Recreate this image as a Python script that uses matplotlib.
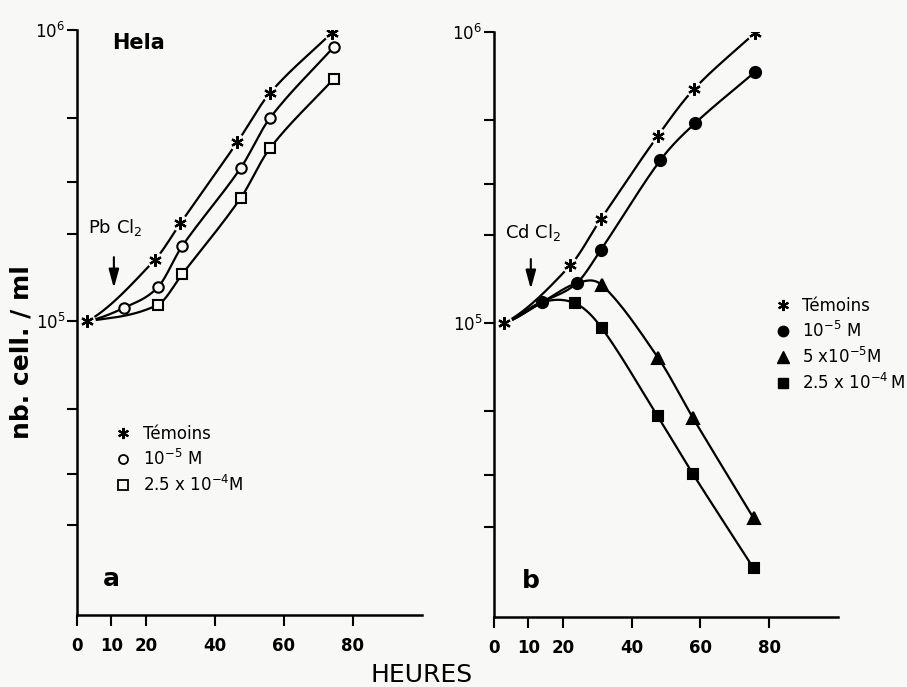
import numpy as np
import matplotlib
matplotlib.use("Agg")
import matplotlib.pyplot as plt
from matplotlib.lines import Line2D

# common starting culture (before the salt is added)
t_start = 3
n_start = 1.0e5

# panel a : PbCl2
a_tem_t = [22.5, 30, 46.5, 56, 74]
a_tem_n = [1.62e5, 2.17e5, 4.12e5, 6.08e5, 9.8e5]
a_m5_t = [13.5, 23.5, 30.5, 47.5, 56, 74.5]
a_m5_n = [1.11e5, 1.31e5, 1.81e5, 3.36e5, 4.99e5, 8.75e5]
a_m4_t = [23.5, 30.5, 47.5, 56, 74.5]
a_m4_n = [1.14e5, 1.45e5, 2.65e5, 3.93e5, 6.8e5]

# panel b : CdCl2
b_tem_t = [22.2, 31, 47.6, 58.2, 76]
b_tem_n = [1.58e5, 2.27e5, 4.39e5, 6.37e5, 9.95e5]
b_m5_t = [14, 24, 31, 48.4, 58.5, 76]
b_m5_n = [1.18e5, 1.37e5, 1.78e5, 3.63e5, 4.86e5, 7.3e5]
b_5m5_t = [31.4, 47.8, 57.9, 75.5]
b_5m5_n = [1.35e5, 7.58e4, 4.72e4, 2.14e4]
b_m4_t = [23.6, 31.4, 47.6, 57.9, 75.5]
b_m4_n = [1.17e5, 9.6e4, 4.79e4, 3.03e4, 1.44e4]

a_labels = ['Témoins', '10$^{-5}$ M', '2.5 x 10$^{-4}$M']
b_labels = ['Témoins', '10$^{-5}$ M', '5 x10$^{-5}$M', '2.5 x 10$^{-4}\\,$M']

BG = '#f8f8f6'
STAR = (6, 2, 0)


def smooth(t, n, steps=30):
    # catmull-rom style curve through the points, in log space (hand-drawn look)
    x = np.asarray(t, float)
    y = np.log10(np.asarray(n, float))
    m = np.empty_like(y)
    m[1:-1] = (y[2:] - y[:-2]) / (x[2:] - x[:-2])
    m[0] = 0.6 * (y[1] - y[0]) / (x[1] - x[0])
    m[-1] = (y[-1] - y[-2]) / (x[-1] - x[-2])
    xs, ys = [], []
    for i in range(len(x) - 1):
        h = x[i + 1] - x[i]
        s = np.linspace(0, 1, steps)
        h00 = 2 * s**3 - 3 * s**2 + 1
        h10 = s**3 - 2 * s**2 + s
        h01 = -2 * s**3 + 3 * s**2
        h11 = s**3 - s**2
        xs.append(x[i] + s * h)
        ys.append(h00 * y[i] + h10 * h * m[i] + h01 * y[i + 1] + h11 * h * m[i + 1])
    return np.concatenate(xs), 10 ** np.concatenate(ys)


def curve(ax, t, n):
    xs, ys = smooth(t, n)
    ax.plot(xs, ys, color='k', lw=1.6, zorder=2, solid_capstyle='butt')


def marks(ax, t, n, marker, filled, ms):
    if marker == STAR:
        ax.plot(t, n, 'o', ms=ms + 3, mfc=BG, mec='none', zorder=3)
        ax.plot(t, n, ls='none', marker=STAR, ms=ms, mec='k', mew=1.6, zorder=4)
    else:
        ax.plot(t, n, ls='none', marker=marker, ms=ms, mfc='k' if filled else BG,
                mec='k', mew=1.5, zorder=4)


def setup(ax):
    ax.set_facecolor(BG)
    ax.set_yscale('log')
    ax.set_ylim(9.8e3, 1e6)
    ax.set_xlim(0, 100)
    for s in ['top', 'right']:
        ax.spines[s].set_visible(False)
    for s in ['left', 'bottom']:
        ax.spines[s].set_linewidth(1.8)
    ax.set_xticks([0, 10, 20, 40, 60, 80])
    ax.set_yticks([1e5, 1e6])
    ax.set_yticks([2e4, 3e4, 5e4, 2e5, 3e5, 5e5], minor=True)
    ax.yaxis.set_minor_formatter(matplotlib.ticker.NullFormatter())
    ax.tick_params(axis='x', direction='out', length=8, width=1.5, pad=8, labelsize=12)
    ax.tick_params(axis='y', which='both', direction='out', length=7, width=1.5,
                   pad=1.5, labelsize=12)
    for lab in ax.get_xticklabels():
        lab.set_fontweight('bold')


def arrow(ax, x, y0, y1):
    ax.annotate('', xy=(x, y1), xytext=(x, y0),
                arrowprops=dict(arrowstyle='-|>,head_width=0.22,head_length=0.8',
                                lw=1.5, color='k', mutation_scale=14,
                                shrinkA=0, shrinkB=0))


fig = plt.figure(figsize=(9.07, 6.87), dpi=100, facecolor=BG)
ax_a = fig.add_axes([0.0849, 0.1048, 0.380, 0.8515])
ax_b = fig.add_axes([0.5447, 0.1020, 0.379, 0.8515])
setup(ax_a)
setup(ax_b)

# ---- panel a
curve(ax_a, [t_start] + a_tem_t, [n_start] + a_tem_n)
curve(ax_a, [t_start] + a_m5_t, [n_start] + a_m5_n)
curve(ax_a, [t_start] + a_m4_t, [n_start] + a_m4_n)
marks(ax_a, [t_start] + a_tem_t, [n_start] + a_tem_n, STAR, False, 9)
marks(ax_a, a_m5_t, a_m5_n, 'o', False, 7.5)
marks(ax_a, a_m4_t, a_m4_n, 's', False, 7)

ax_a.text(10.3, 9.0e5, 'Hela', fontsize=15, fontweight='bold', va='center')
ax_a.text(3.3, 2.1e5, 'Pb Cl$_2$', fontsize=13, va='center')
arrow(ax_a, 10.7, 1.66e5, 1.30e5)
ax_a.text(7.5, 1.3e4, 'a', fontsize=18, fontweight='bold', va='center')

h_a = [Line2D([], [], ls='none', marker=STAR, ms=8, mec='k', mew=1.5),
       Line2D([], [], ls='none', marker='o', ms=6.5, mfc=BG, mec='k', mew=1.3),
       Line2D([], [], ls='none', marker='s', ms=6.5, mfc=BG, mec='k', mew=1.3)]
ax_a.legend(h_a, a_labels, loc='upper left', bbox_to_anchor=(0.11, 0.325), frameon=False,
            fontsize=12, handlelength=1.0, handletextpad=0.68, labelspacing=0.35,
            borderpad=0, borderaxespad=0)

# ---- panel b (treated cultures branch off the 10^-5 M curve)
curve(ax_b, [t_start] + b_tem_t, [n_start] + b_tem_n)
curve(ax_b, [t_start] + b_m5_t, [n_start] + b_m5_n)
curve(ax_b, [t_start] + b_m5_t[:2] + b_5m5_t, [n_start] + b_m5_n[:2] + b_5m5_n)
curve(ax_b, [t_start, b_m5_t[0]] + b_m4_t, [n_start, b_m5_n[0]] + b_m4_n)
marks(ax_b, [t_start] + b_tem_t, [n_start] + b_tem_n, STAR, False, 9)
marks(ax_b, b_m5_t, b_m5_n, 'o', True, 8)
marks(ax_b, b_5m5_t, b_5m5_n, '^', True, 8.5)
marks(ax_b, b_m4_t, b_m4_n, 's', True, 7.5)

ax_b.text(3.3, 2.05e5, 'Cd Cl$_2$', fontsize=13, va='center')
arrow(ax_b, 10.7, 1.66e5, 1.31e5)
ax_b.text(8, 1.3e4, 'b', fontsize=18, fontweight='bold', va='center')

h_b = [Line2D([], [], ls='none', marker=STAR, ms=8, mec='k', mew=1.5),
       Line2D([], [], ls='none', marker='o', ms=7.5, mfc='k', mec='k'),
       Line2D([], [], ls='none', marker='^', ms=8, mfc='k', mec='k'),
       Line2D([], [], ls='none', marker='s', ms=7, mfc='k', mec='k')]
ax_b.legend(h_b, b_labels, loc='upper left', bbox_to_anchor=(0.816, 0.547), frameon=False,
            fontsize=12, handlelength=1.0, handletextpad=0.62, labelspacing=0.35,
            borderpad=0, borderaxespad=0)

fig.text(0.024, 0.488, 'nb. cell. / ml', rotation=90, fontsize=18, fontweight='bold',
         ha='center', va='center')
fig.text(0.465, 0.0175, 'HEURES', fontsize=18, ha='center', va='center')

fig.savefig('out.png', dpi=100, facecolor=BG)
